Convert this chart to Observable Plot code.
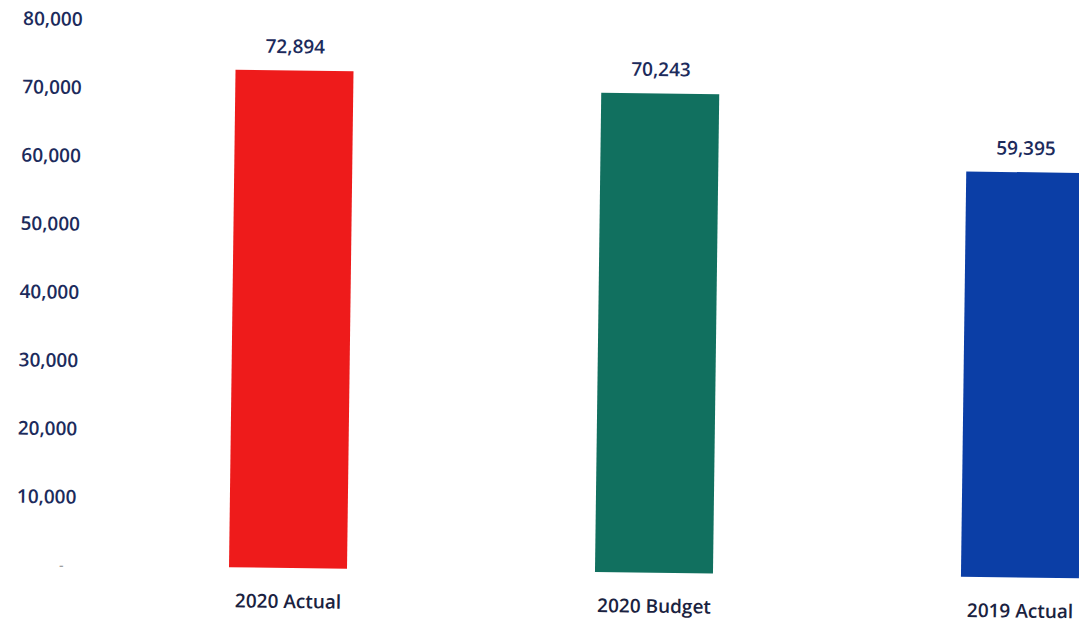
<!DOCTYPE html>
<html>
<head>
<meta charset="utf-8">
<script src="https://cdn.jsdelivr.net/npm/d3@7"></script>
<script src="https://cdn.jsdelivr.net/npm/@observablehq/plot@0.6"></script>
<style>
  html, body { margin: 0; padding: 0; background: #fff; overflow: hidden; }
  #chart svg { display: block; transform: rotate(0.75deg); transform-origin: 288px 568px; }
</style>
</head>
<body>
<div id="chart"></div>
<script>
const categories = ["2020 Actual", "2020 Budget", "2019 Actual"];
const values = [72894, 70243, 59395];
const colors = ["#ee1b1b", "#11705f", "#0b3ea6"];
const yTicks = [10000, 20000, 30000, 40000, 50000, 60000, 70000, 80000];
const zeroTick = [0];

const data = categories.map((c, i) => ({category: c, value: values[i], color: colors[i]}));
const fmt = d3.format(",");
const font = "'Open Sans', sans-serif";

const chart = Plot.plot({
  width: 1079,
  height: 621,
  marginTop: 22,
  marginBottom: 53,
  marginLeft: 78,
  marginRight: 0,
  style: {fontFamily: font, background: "#fff", overflow: "visible"},
  x: {domain: categories, range: [228, 1080], paddingInner: 0.678, paddingOuter: 0, label: null},
  y: {domain: [0, 80000], label: null},
  color: {type: "identity"},
  marks: [
    Plot.barY(data, {x: "category", y: "value", fill: "color"}),
    Plot.text(data, {x: "category", y: "value", text: d => fmt(d.value), dy: -24,
      fill: "#1c2b5c", fontSize: 19, fontWeight: 600, fontFamily: font}),
    Plot.axisY({ticks: yTicks, tickSize: 0, tickPadding: 3,
      tickFormat: d => fmt(d),
      fill: "#1c2b5c", fontSize: 19, fontWeight: 600, fontFamily: font}),
    Plot.axisY({ticks: zeroTick, tickSize: 0, tickPadding: 3, dx: -12,
      tickFormat: () => "-",
      fill: "#888", fontSize: 14, fontWeight: 400, fontFamily: font}),
    Plot.axisX({tickSize: 0, tickPadding: 26, fill: "#1a2240", fontSize: 19, fontWeight: 600, fontFamily: font})
  ]
});
document.getElementById("chart").appendChild(chart);
</script>
</body>
</html>
